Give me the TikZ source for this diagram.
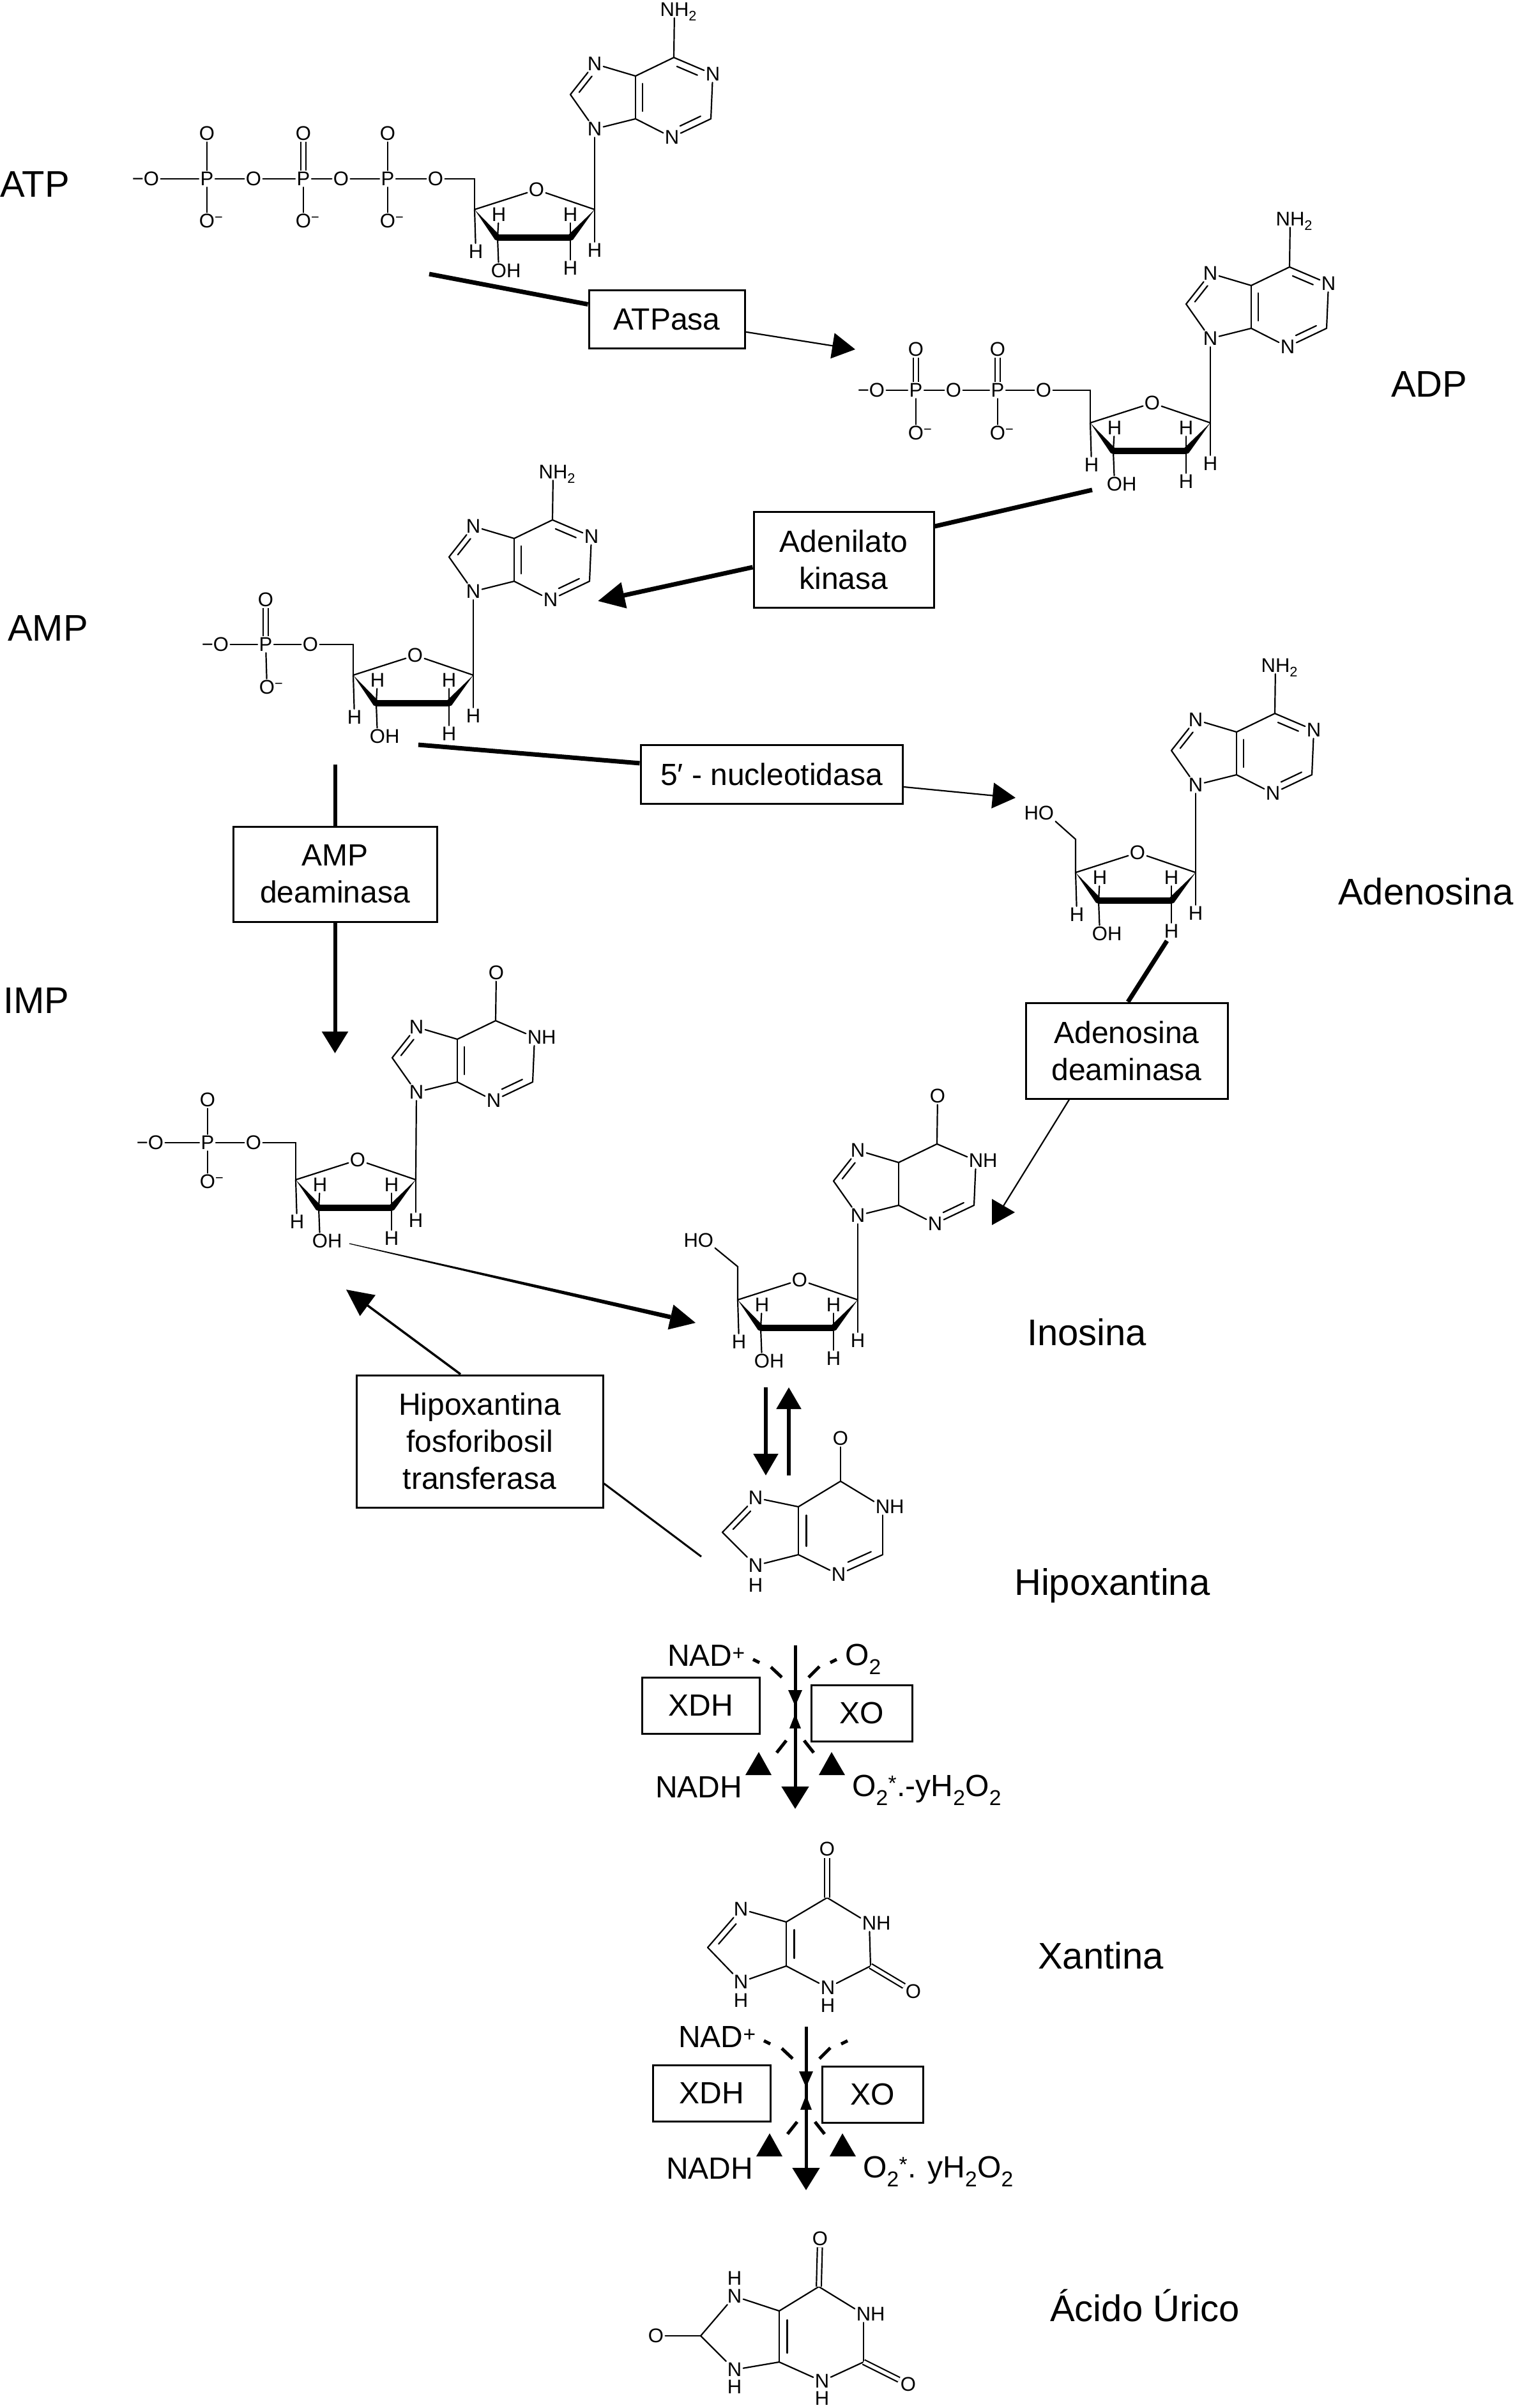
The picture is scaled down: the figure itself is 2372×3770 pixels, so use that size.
\documentclass[tikz,border=0pt]{standalone}
\usepackage{fontspec}
\setmainfont{Liberation Sans}
\usetikzlibrary{calc,arrows.meta}
\newcommand\atomfont{\fontsize{31}{36}\selectfont}
\newcommand\boxfont{\fontsize{48}{58}\selectfont}
\newcommand\labfont{\fontsize{58}{70}\selectfont}
\newcommand\subtwo{\rlap{\smash{\textsubscript{2}}}}
\newcommand\Ominus{O\rlap{\smash{\textsuperscript{−}}}}
\newcommand\minO{\llap{−}O}
\tikzset{
  atom/.style={font=\atomfont, inner sep=2.5pt, outer sep=0pt},
  bond/.style={line width=2.2pt, line cap=round},
  dbond/.style={line width=2.2pt, double, double distance=5.5pt, line cap=butt},
  enzbox/.style={draw, line width=3pt, font=\boxfont, align=center, inner sep=0pt},
  txt/.style={font=\boxfont, inner sep=0pt},
  biglabel/.style={font=\labfont, inner sep=0pt, anchor=base west},
  thickline/.style={line width=7pt},
  thinline/.style={line width=2.2pt},
  thinarrow/.style={line width=2.2pt, -{Triangle[length=36pt,width=40pt]}},
  mainarrow/.style={line width=5pt, -{Triangle[length=35pt,width=42pt]}},
  eqarrow/.style={line width=5.5pt, -{Triangle[length=34pt,width=38pt]}},
  dashseg/.style={line width=5pt}
}
% inner line of a ring double bond
\newcommand\inbond[5]{%
  \path ($(#1)!0.19!(#3)$) coordinate (ibA) ($(#2)!0.19!(#3)$) coordinate (ibB);
  \draw[bond] ($(ibA)!#4!(ibB)$) -- ($(ibB)!#5!(ibA)$);}
% purine skeleton from template (prefix, N9 x, N9 y, N1 text, C6 substituent)
\newcommand\purineT[5]{%
 \begin{scope}[shift={(#2,#3)}]
  \node[atom] (#1N9) at (0,0) {N};
  \coordinate (#1C8) at (-38,-54);
  \node[atom] (#1N7) at (0,-102) {N};
  \coordinate (#1C5) at (64,-83);
  \coordinate (#1C4) at (64,-16);
  \node[atom] (#1N3) at (121,13) {N};
  \coordinate (#1C2) at (182,-16);
  \node[atom] (#1N1) at (185,-86) {#4};
  \coordinate (#1C6) at (124,-112);
  \node[atom] (#1X6) at (125,-187) {#5};
 \end{scope}}
\newcommand\purinebonds[1]{%
 \foreach \a/\b in {N9/C8,C8/N7,N7/C5,C5/C4,C4/N9,C4/N3,N3/C2,C2/N1,N1/C6,C6/C5}
   {\draw[bond] (#1\a) -- (#1\b);}
 \coordinate (#1hc) at ($(#1C5)!0.5!(#1C2)$);
 \coordinate (#1m45) at ($(#1C4)!0.5!(#1C5)$);
 \coordinate (#1pc) at ($(#1C8)!0.55!(#1m45)$);}
% ribose ring (prefix, C1' x, C1' y)
\newcommand\ribose[3]{%
 \begin{scope}[shift={(#2,#3)}]
  \coordinate (#1C1) at (0,0);
  \coordinate (#1C4) at (-188,0);
  \node[atom] (#1O) at (-91,-31) {O};
  \coordinate (#1C3) at (-152,44);
  \coordinate (#1C2) at (-38,44);
  \node[atom] (#1H3) at (-150,8) {H};
  \node[atom] (#1H2) at (-38,8) {H};
  \node[atom] (#1H4) at (-186,66) {H};
  \node[atom] (#1OH) at (-150,96) {O\rlap{H}};
  \node[atom] (#1H2b) at (-38,92) {H};
  \node[atom] (#1H1) at (0,64) {H};
  \fill (-188,0) -- (-148,41) -- (-156,47.5) -- cycle;
  \draw[line width=10pt,line cap=round] (-152,44) -- (-38,44);
  \fill (0,0) -- (-34,47.5) -- (-42,40.5) -- cycle;
 \end{scope}
 \draw[bond] (#1C4) -- (#1O);
 \draw[bond] (#1O) -- (#1C1);
 \draw[bond] (#1C4) -- (#1H4);
 \draw[bond] (#1C3) -- (#1H3);
 \draw[bond] (#1C3) -- (#1OH);
 \draw[bond] (#1C2) -- (#1H2);
 \draw[bond] (#1C2) -- (#1H2b);
 \draw[bond] (#1C1) -- (#1H1);}
% XDH / XO block (prefix, x, y of main arrow top, XDH box y, extra, product)
\newcommand\xblock[6]{%
 \begin{scope}[shift={(#2,#3)}]
  \coordinate (#1top) at (0,0);
  \coordinate (#1tip) at (0,256);
  \node[enzbox,minimum width=184pt,minimum height=88pt] (#1xdh) at (-148,#4) {XDH};
  \node[enzbox,minimum width=158pt,minimum height=88pt] (#1xo) at (104,106) {XO};
  \node[txt,anchor=base west] (#1nad) at (-200,32) {NAD\textsuperscript{+}};
  \node[txt,anchor=base west] (#1nadh) at (-219,238) {NADH};
  \node[txt,anchor=base west] (#1prod) at (89,236) {#6};
  #5
  \draw[dashseg] (-66,22) -- (-56,27);
  \draw[dashseg] (-38,34) -- (-21,50);
  \draw[dashseg] (55,27) -- (65,22);
  \draw[dashseg] (21,50) -- (38,33);
  \draw[dashseg] (-14,149) -- (-29,168);
  \draw[dashseg] (14,149) -- (29,168);
  \fill (-11,70) -- (11,70) -- (0,95) -- cycle;
  \fill (-9,130) -- (9,130) -- (0,107) -- cycle;
  \fill (-78,203) -- (-37,203) -- (-57,167) -- cycle;
  \fill (37,203) -- (78,203) -- (57,167) -- cycle;
 \end{scope}
 \draw[mainarrow] (#1top) -- (#1tip);}

\begin{document}
\begin{tikzpicture}[x=1pt,y=-1pt]
\useasboundingbox (0,0) rectangle (2372,3770);

% ---------------- big labels
\node[biglabel] (lATP) at (0,308) {ATP};
\node[biglabel] (lADP) at (2178,621) {ADP};
\node[biglabel] (lAMP) at (12,1003) {AMP};
\node[biglabel] (lADS) at (2095,1416) {Adenosina};
\node[biglabel] (lIMP) at (5,1586) {IMP};
\node[biglabel] (lINO) at (1608,2106) {Inosina};
\node[biglabel] (lHIP) at (1588,2497) {Hipoxantina};
\node[biglabel] (lXAN) at (1625,3082) {Xantina};
\node[biglabel] (lURI) at (1644,3634) {Ácido Úrico};

% ---------------- ATP
\purineT{atp}{931}{202}{N}{NH\subtwo}
\purinebonds{atp}
\draw[bond] (atpC6) -- (atpX6);
\inbond{atpC8}{atpN7}{atppc}{0.1}{0.25}
\inbond{atpC5}{atpC4}{atphc}{0.1}{0.1}
\inbond{atpC2}{atpN3}{atphc}{0.1}{0.25}
\inbond{atpC6}{atpN1}{atphc}{0.1}{0.25}
\ribose{atpr}{931}{328}
\draw[bond] (atprC1) -- (atpN9);
\node[atom] (atpPa) at (237,280) {\minO};
\node[atom] (atpP1) at (324,280) {P};
\node[atom] (atpPb) at (397,280) {O};
\node[atom] (atpP2) at (475,280) {P};
\node[atom] (atpPc) at (534,280) {O};
\node[atom] (atpP3) at (607,280) {P};
\node[atom] (atpPd) at (682,280) {O};
\coordinate (atpC5p) at (743,280);
\node[atom] (atpT1) at (324,209) {O};
\node[atom] (atpT2) at (475,209) {O};
\node[atom] (atpT3) at (607,209) {O};
\node[atom] (atpB1) at (324,346) {\Ominus};
\node[atom] (atpB2) at (475,346) {\Ominus};
\node[atom] (atpB3) at (607,346) {\Ominus};
\foreach \a/\b in {Pa/P1,P1/Pb,Pb/P2,P2/Pc,Pc/P3,P3/Pd,P1/T1,P3/T3,P1/B1,P2/B2,P3/B3}
  {\draw[bond] (atp\a) -- (atp\b);}
\draw[dbond] (atpP2) -- (atpT2);
\draw[bond] (atpPd) -- (atpC5p) -- (atprC4);

% ---------------- ADP
\purineT{adp}{1895}{530}{N}{NH\subtwo}
\purinebonds{adp}
\draw[bond] (adpC6) -- (adpX6);
\inbond{adpC8}{adpN7}{adppc}{0.1}{0.25}
\inbond{adpC5}{adpC4}{adphc}{0.1}{0.1}
\inbond{adpC2}{adpN3}{adphc}{0.1}{0.25}
\inbond{adpC6}{adpN1}{adphc}{0.1}{0.25}
\ribose{adpr}{1895}{662}
\draw[bond] (adprC1) -- (adpN9);
\node[atom] (adpPa) at (1373,611) {\minO};
\node[atom] (adpP1) at (1434,611) {P};
\node[atom] (adpPb) at (1493,611) {O};
\node[atom] (adpP2) at (1562,611) {P};
\node[atom] (adpPc) at (1634,611) {O};
\coordinate (adpC5p) at (1707,611);
\node[atom] (adpT1) at (1434,547) {O};
\node[atom] (adpT2) at (1562,547) {O};
\node[atom] (adpB1) at (1434,678) {\Ominus};
\node[atom] (adpB2) at (1562,678) {\Ominus};
\foreach \a/\b in {Pa/P1,P1/Pb,Pb/P2,P2/Pc,P1/B1,P2/B2}
  {\draw[bond] (adp\a) -- (adp\b);}
\draw[dbond] (adpP1) -- (adpT1);
\draw[dbond] (adpP2) -- (adpT2);
\draw[bond] (adpPc) -- (adpC5p) -- (adprC4);

% ---------------- AMP
\purineT{amp}{741}{926}{N}{NH\subtwo}
\purinebonds{amp}
\draw[bond] (ampC6) -- (ampX6);
\inbond{ampC8}{ampN7}{amppc}{0.1}{0.25}
\inbond{ampC5}{ampC4}{amphc}{0.1}{0.1}
\inbond{ampC2}{ampN3}{amphc}{0.1}{0.25}
\inbond{ampC6}{ampN1}{amphc}{0.1}{0.25}
\ribose{ampr}{741}{1057}
\draw[bond] (amprC1) -- (ampN9);
\node[atom] (ampPa) at (346,1009) {\minO};
\node[atom] (ampP1) at (416,1009) {P};
\node[atom] (ampPb) at (486,1009) {O};
\coordinate (ampC5p) at (553,1009);
\node[atom] (ampT1) at (416,939) {O};
\node[atom] (ampB1) at (418,1076) {\Ominus};
\foreach \a/\b in {Pa/P1,P1/Pb,P1/B1}
  {\draw[bond] (amp\a) -- (amp\b);}
\draw[dbond] (ampP1) -- (ampT1);
\draw[bond] (ampPb) -- (ampC5p) -- (amprC4);

% ---------------- Adenosina
\purineT{ads}{1872}{1229}{N}{NH\subtwo}
\purinebonds{ads}
\draw[bond] (adsC6) -- (adsX6);
\inbond{adsC8}{adsN7}{adspc}{0.1}{0.25}
\inbond{adsC5}{adsC4}{adshc}{0.1}{0.1}
\inbond{adsC2}{adsN3}{adshc}{0.1}{0.25}
\inbond{adsC6}{adsN1}{adshc}{0.1}{0.25}
\ribose{adsr}{1872}{1366}
\draw[bond] (adsrC1) -- (adsN9);
\coordinate (adsC5p) at (1684,1314);
\node[atom] (adsHO) at (1638,1273) {\llap{H}O};
\draw[bond] (adsrC4) -- (adsC5p) -- (adsHO);

% ---------------- IMP
\purineT{imp}{652}{1710}{N\rlap{H}}{O}
\purinebonds{imp}
\draw[bond] (impC6) -- (impX6);
\inbond{impC8}{impN7}{imppc}{0.1}{0.25}
\inbond{impC5}{impC4}{imphc}{0.1}{0.1}
\inbond{impC2}{impN3}{imphc}{0.1}{0.25}
\ribose{impr}{651}{1847}
\draw[bond] (imprC1) -- (impN9);
\node[atom] (impPa) at (244,1789) {\minO};
\node[atom] (impP1) at (325,1789) {P};
\node[atom] (impPb) at (397,1789) {O};
\coordinate (impC5p) at (463,1789);
\node[atom] (impT1) at (325,1722) {O};
\node[atom] (impB1) at (325,1850) {\Ominus};
\foreach \a/\b in {Pa/P1,P1/Pb,P1/B1,P1/T1}
  {\draw[bond] (imp\a) -- (imp\b);}
\draw[bond] (impPb) -- (impC5p) -- (imprC4);

% ---------------- Inosina
\purineT{ino}{1343}{1903}{N\rlap{H}}{O}
\purinebonds{ino}
\draw[bond] (inoC6) -- (inoX6);
\inbond{inoC8}{inoN7}{inopc}{0.1}{0.25}
\inbond{inoC2}{inoN3}{inohc}{0.1}{0.25}
\ribose{inor}{1343}{2035}
\draw[bond] (inorC1) -- (inoN9);
\coordinate (inoC5p) at (1155,1983);
\node[atom] (inoHO) at (1105,1942) {\llap{H}O};
\draw[bond] (inorC4) -- (inoC5p) -- (inoHO);

% ---------------- Hipoxantina
\node[atom] (hipN9) at (1183,2451) {N};
\node[atom] (hipH9) at (1183,2482) {H};
\coordinate (hipC8) at (1131,2399);
\node[atom] (hipN7) at (1183,2345) {N};
\coordinate (hipC5) at (1250,2359);
\coordinate (hipC4) at (1250,2434);
\node[atom] (hipN3) at (1313,2465) {N};
\coordinate (hipC2) at (1382,2434);
\node[atom] (hipN1) at (1382,2359) {N\rlap{H}};
\coordinate (hipC6) at (1316,2319);
\node[atom] (hipX6) at (1316,2252) {O};
\purinebonds{hip}
\draw[bond] (hipC6) -- (hipX6);
\inbond{hipC8}{hipN7}{hippc}{0.1}{0.25}
\inbond{hipC5}{hipC4}{hiphc}{0.1}{0.1}
\inbond{hipC2}{hipN3}{hiphc}{0.1}{0.25}

% ---------------- Xantina
\node[atom] (xanN9) at (1160,3103) {N};
\node[atom] (xanH9) at (1160,3132) {H};
\coordinate (xanC8) at (1108,3049);
\node[atom] (xanN7) at (1160,2989) {N};
\coordinate (xanC5) at (1231,3009);
\coordinate (xanC4) at (1231,3078);
\node[atom] (xanN3) at (1296,3112) {N};
\node[atom] (xanH3) at (1296,3140) {H};
\coordinate (xanC2) at (1363,3078);
\node[atom] (xanX2) at (1430,3118) {O};
\node[atom] (xanN1) at (1361,3011) {N\rlap{H}};
\coordinate (xanC6) at (1295,2971);
\node[atom] (xanX6) at (1295,2895) {O};
\purinebonds{xan}
\draw[dbond] (xanC6) -- (xanX6);
\draw[dbond] (xanC2) -- (xanX2);
\inbond{xanC8}{xanN7}{xanpc}{0.1}{0.25}
\inbond{xanC5}{xanC4}{xanhc}{0.1}{0.1}

% ---------------- Acido urico
\node[atom] (uriN9) at (1150,3710) {N};
\node[atom] (uriH9) at (1150,3737) {H};
\coordinate (uriC8) at (1097,3657);
\node[atom] (uriX8) at (1027,3657) {O};
\node[atom] (uriN7) at (1150,3595) {N};
\node[atom] (uriH7) at (1150,3567) {H};
\coordinate (uriC5) at (1220,3618);
\coordinate (uriC4) at (1220,3698);
\node[atom] (uriN3) at (1287,3728) {N};
\node[atom] (uriH3) at (1287,3755) {H};
\coordinate (uriC2) at (1352,3698);
\node[atom] (uriX2) at (1422,3733) {O};
\node[atom] (uriN1) at (1352,3623) {N\rlap{H}};
\coordinate (uriC6) at (1282,3580);
\node[atom] (uriX6) at (1284,3505) {O};
\purinebonds{uri}
\draw[bond] (uriC8) -- (uriX8);
\draw[dbond] (uriC6) -- (uriX6);
\draw[dbond] (uriC2) -- (uriX2);
\inbond{uriC5}{uriC4}{urihc}{0.1}{0.1}

% ---------------- enzyme boxes
\node[enzbox,minimum width=244pt,minimum height=91pt] (atpase) at (1044,500) {ATPasa};
\node[enzbox,minimum width=282pt,minimum height=150pt] (adk) at (1321,876) {Adenilato\\kinasa};
\node[enzbox,minimum width=410pt,minimum height=92pt] (nt) at (1208,1212) {5′ - nucleotidasa};
\node[enzbox,minimum width=319pt,minimum height=149pt] (amd) at (524.5,1368.5) {AMP\\deaminasa};
\node[enzbox,minimum width=316pt,minimum height=150pt] (add) at (1764,1645) {Adenosina\\deaminasa};
\node[enzbox,minimum width=386pt,minimum height=207pt] (hgprt) at (751,2256.5) {Hipoxantina\\fosforibosil\\transferasa};

% ---------------- connectors
\coordinate (atpS) at (672,429);
\coordinate (atpT) at (1339,547);
\draw[thickline] (atpS) -- (atpase);
\draw[thinarrow] (atpase) -- (atpT);

\coordinate (adkS) at (1710,767);
\coordinate (adkT) at (936,941);
\draw[thickline] (adkS) -- ([yshift=52pt]adk.east);
\draw[thickline,-{Triangle[length=42pt,width=40pt]}] ([yshift=-12pt]adk.west) -- (adkT);

\coordinate (ntS) at (655,1166);
\coordinate (ntT) at (1590,1249);
\draw[thickline] (ntS) -- (nt);
\draw[thinarrow] (nt) -- (ntT);

\coordinate (amdS) at (524.5,1197);
\coordinate (amdT) at (524.5,1649);
\draw[line width=6pt] (amdS) -- (amd);
\draw[line width=6pt,-{Triangle[length=34pt,width=40pt]}] (amd) -- (amdT);

\coordinate (addS) at (1827,1473);
\coordinate (addT) at (1571,1888);
\draw[thickline] (addS) -- ([xshift=2pt]add.north);
\draw[thinline] ([xshift=-90pt]add.south) -- (addT);
\fill (1553,1877) -- (1589,1898) -- (1553,1918) -- cycle;

% tapered arrow IMP -> Inosina
\coordinate (tapS) at (547,1947);
\coordinate (tapT) at (1089,2071);
\coordinate (tapB) at ($(tapT)!40pt!(tapS)$);
\fill ($(tapS)!0.6pt!90:(tapT)$) -- ($(tapS)!0.6pt!-90:(tapT)$) -- ($(tapB)!3.5pt!90:(tapS)$) -- ($(tapB)!3.5pt!-90:(tapS)$) -- cycle;
\fill (tapT) -- ($(tapB)!20pt!90:(tapS)$) -- ($(tapB)!20pt!-90:(tapS)$) -- cycle;

% transferasa
\coordinate (hgT) at (542,2019);
\coordinate (hgS) at (1098,2437);
\draw[line width=3.5pt,-{Triangle[length=42pt,width=40pt]}] ([xshift=-30pt]hgprt.north) -- (hgT);
\draw[line width=3pt] ([yshift=-66pt]hgprt.east) -- (hgS);

% equilibrium Inosina <-> Hipoxantina
\coordinate (eqA1) at (1199,2172);
\coordinate (eqA2) at (1199,2310);
\coordinate (eqB1) at (1235,2310);
\coordinate (eqB2) at (1235,2172);
\draw[eqarrow] (eqA1) -- (eqA2);
\draw[eqarrow] (eqB1) -- (eqB2);

% ---------------- XDH / XO blocks
\xblock{xa}{1245}{2576}{94}{\node[txt,anchor=base west] (xaO2) at (78,31) {O\textsubscript{2}};}{O\textsubscript{2}\textsuperscript{*}.-yH\textsubscript{2}O\textsubscript{2}}
\xblock{xb}{1262}{3173}{104}{}{O\textsubscript{2}\textsuperscript{*}. yH\textsubscript{2}O\textsubscript{2}}

\end{tikzpicture}
\end{document}
